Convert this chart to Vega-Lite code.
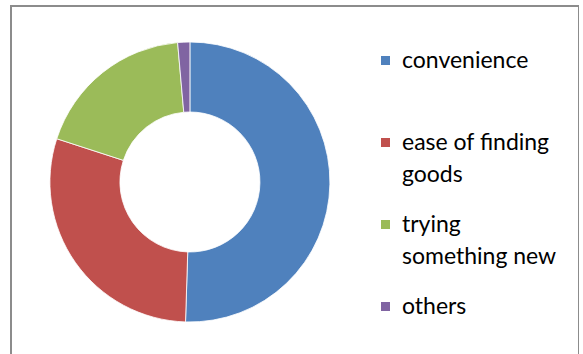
{
  "$schema": "https://vega.github.io/schema/vega-lite/v6.json",
  "width": 568,
  "height": 352,
  "autosize": {"type": "none"},
  "padding": {"left": 11, "top": 6, "right": 0, "bottom": 0},
  "background": "white",
  "view": {"stroke": "#8c8c8c", "strokeWidth": 2, "fill": "white"},
  "config": {
    "font": "Lato",
    "style": {"guide-label": {"lineHeight": 32}}
  },
  "data": {
    "values": [
      {"reason": "convenience", "share": 50.5},
      {"reason": "ease of finding goods", "share": 29.5},
      {"reason": "trying something new", "share": 18.6},
      {"reason": "others", "share": 1.4}
    ]
  },
  "mark": {
    "type": "arc",
    "innerRadius": 70,
    "outerRadius": 140,
    "stroke": "white",
    "strokeWidth": 0.8,
    "x": {"expr": "width * 0.315"}
  },
  "encoding": {
    "theta": {"field": "share", "type": "quantitative", "stack": true},
    "color": {
      "field": "reason",
      "type": "nominal",
      "sort": null,
      "scale": {
        "domain": ["convenience", "ease of finding goods", "trying something new", "others"],
        "range": ["#4F81BD", "#C0504D", "#9BBB59", "#8064A2"]
      },
      "legend": {
        "orient": "none",
        "legendX": 363,
        "legendY": 43,
        "title": null,
        "padding": 0,
        "symbolType": "square",
        "symbolSize": 81,
        "symbolStrokeWidth": 0,
        "labelFontSize": 23,
        "labelFont": "Lato",
        "labelColor": "#000000",
        "labelOffset": 5,
        "labelLimit": 300,
        "rowPadding": 26,
        "labelExpr": "datum.label == 'ease of finding goods' ? ['ease of finding', 'goods'] : datum.label == 'trying something new' ? ['trying', 'something new'] : [datum.label, '']",
        "encoding": {
          "labels": {"update": {"lineHeight": {"value": 32}}}
        }
      }
    },
    "order": {"field": "share", "sort": "descending"}
  }
}
